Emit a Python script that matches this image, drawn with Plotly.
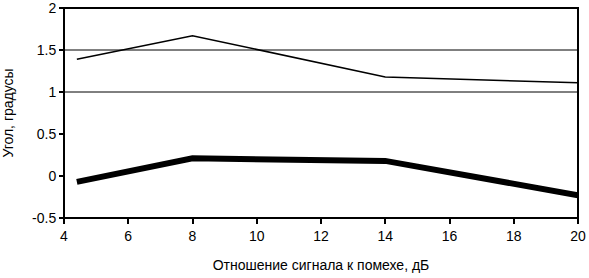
import plotly.graph_objects as go

x_vals = [4.4, 8, 14, 20]
thin_y = [1.39, 1.67, 1.18, 1.11]
thick_y = [-0.07, 0.21, 0.18, -0.23]
grid_levels = [1, 1.5]
x_title = "Отношение сигнала к помехе, дБ"
y_title = "Угол, градусы"

fig = go.Figure()
fig.add_trace(go.Scatter(x=x_vals, y=thin_y, mode="lines",
                         line=dict(color="black", width=1.5), showlegend=False))
fig.add_trace(go.Scatter(x=x_vals, y=thick_y, mode="lines",
                         line=dict(color="black", width=6), showlegend=False))
for g in grid_levels:
    fig.add_hline(y=g, line=dict(color="black", width=1), layer="below")

fig.add_shape(type="rect", xref="paper", yref="paper", x0=0, y0=0, x1=1, y1=1,
              line=dict(color="black", width=2), layer="above")

fig.update_layout(
    width=589, height=278,
    margin=dict(l=64, r=11, t=8, b=60, autoexpand=False),
    plot_bgcolor="white", paper_bgcolor="white",
    font=dict(family="Liberation Sans, Arial", size=14, color="black"),
)
fig.update_xaxes(range=[4, 20], tickvals=[4, 6, 8, 10, 12, 14, 16, 18, 20],
                 showgrid=False, zeroline=False, showline=False, automargin=False,
                 ticks="outside", ticklen=5, tickcolor="black", tickwidth=1.5,
                 ticklabeloverflow="allow",
                 title=dict(text=x_title, font=dict(size=14), standoff=17))
fig.update_yaxes(range=[-0.5, 2.0001], tickvals=[-0.5, 0, 0.5, 1, 1.5, 2],
                 ticktext=["-0.5", "0", "0.5", "1", "1.5", "2"],
                 showgrid=False, zeroline=False, showline=False, automargin=False,
                 ticks="outside", ticklen=4, tickcolor="black", tickwidth=1.5,
                 ticklabeloverflow="allow",
                 title=dict(text=y_title, font=dict(size=14), standoff=15))
fig.write_html("out.html", config={"displayModeBar": False},
               post_script="document.body.style.margin='0';document.body.style.padding='0';")
